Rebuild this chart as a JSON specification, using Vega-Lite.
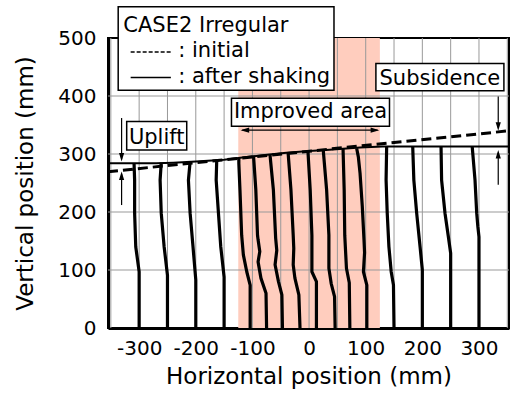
{
  "$schema": "https://vega.github.io/schema/vega-lite/v6.json",
  "width": 401,
  "height": 290,
  "autosize": {"type": "none"},
  "padding": {"left": 108, "top": 38, "right": 4, "bottom": 66},
  "config": {
    "font": "DejaVu Sans",
    "view": {"stroke": "black", "strokeWidth": 2},
    "axis": {"labelColor": "black", "titleColor": "black", "titleFontWeight": "normal", "domainColor": "black", "domainWidth": 3, "ticks": false, "grid": false}
  },
  "datasets": {
    "band": [{"x": -125, "x2": 125, "y": 0, "y2": 500}],
    "gx": [{"x": -350}, {"x": -300}, {"x": -250}, {"x": -200}, {"x": -150}, {"x": -100}, {"x": -50}, {"x": 0}, {"x": 50}, {"x": 100}, {"x": 150}, {"x": 200}, {"x": 250}, {"x": 300}, {"x": 350}],
    "gy": [{"y": 100}, {"y": 200}, {"y": 300}, {"y": 400}],
    "cols": [
      {"id": 1, "x": -300, "y": 0}, {"id": 1, "x": -300, "y": 97}, {"id": 1, "x": -306, "y": 140}, {"id": 1, "x": -308, "y": 198}, {"id": 1, "x": -308, "y": 255}, {"id": 1, "x": -309, "y": 284},
      {"id": 2, "x": -250, "y": 0}, {"id": 2, "x": -250, "y": 91}, {"id": 2, "x": -256, "y": 141}, {"id": 2, "x": -261, "y": 198}, {"id": 2, "x": -263, "y": 255}, {"id": 2, "x": -261, "y": 285},
      {"id": 3, "x": -200, "y": 0}, {"id": 3, "x": -200, "y": 83}, {"id": 3, "x": -205, "y": 141}, {"id": 3, "x": -210, "y": 198}, {"id": 3, "x": -213, "y": 255}, {"id": 3, "x": -210, "y": 287},
      {"id": 4, "x": -150, "y": 0}, {"id": 4, "x": -150, "y": 88}, {"id": 4, "x": -156, "y": 141}, {"id": 4, "x": -160, "y": 198}, {"id": 4, "x": -164, "y": 255}, {"id": 4, "x": -163, "y": 290},
      {"id": 5, "x": -104, "y": 0}, {"id": 5, "x": -104, "y": 74}, {"id": 5, "x": -110, "y": 97}, {"id": 5, "x": -116, "y": 126}, {"id": 5, "x": -119, "y": 160}, {"id": 5, "x": -122, "y": 238}, {"id": 5, "x": -124, "y": 284}, {"id": 5, "x": -124, "y": 293},
      {"id": 6, "x": -75, "y": 0}, {"id": 6, "x": -76, "y": 60}, {"id": 6, "x": -85, "y": 86}, {"id": 6, "x": -90, "y": 114}, {"id": 6, "x": -87, "y": 132}, {"id": 6, "x": -90, "y": 152}, {"id": 6, "x": -91, "y": 160}, {"id": 6, "x": -94, "y": 238}, {"id": 6, "x": -98, "y": 296},
      {"id": 7, "x": -47, "y": 0}, {"id": 7, "x": -48, "y": 57}, {"id": 7, "x": -54, "y": 80}, {"id": 7, "x": -60, "y": 109}, {"id": 7, "x": -57, "y": 134}, {"id": 7, "x": -59, "y": 155}, {"id": 7, "x": -63, "y": 238}, {"id": 7, "x": -69, "y": 299},
      {"id": 8, "x": -16, "y": 0}, {"id": 8, "x": -18, "y": 57}, {"id": 8, "x": -25, "y": 86}, {"id": 8, "x": -28, "y": 109}, {"id": 8, "x": -27, "y": 137}, {"id": 8, "x": -28, "y": 160}, {"id": 8, "x": -32, "y": 238}, {"id": 8, "x": -37, "y": 302},
      {"id": 9, "x": 13, "y": 0}, {"id": 9, "x": 13, "y": 80}, {"id": 9, "x": 5, "y": 97}, {"id": 9, "x": 5, "y": 160}, {"id": 9, "x": 2, "y": 238}, {"id": 9, "x": -2, "y": 305},
      {"id": 10, "x": 46, "y": 0}, {"id": 10, "x": 45, "y": 54}, {"id": 10, "x": 39, "y": 77}, {"id": 10, "x": 35, "y": 103}, {"id": 10, "x": 35, "y": 160}, {"id": 10, "x": 31, "y": 238}, {"id": 10, "x": 25, "y": 307},
      {"id": 11, "x": 72, "y": 0}, {"id": 11, "x": 71, "y": 78}, {"id": 11, "x": 66, "y": 103}, {"id": 11, "x": 63, "y": 160}, {"id": 11, "x": 62, "y": 238}, {"id": 11, "x": 60, "y": 309},
      {"id": 12, "x": 102, "y": 0}, {"id": 12, "x": 102, "y": 74}, {"id": 12, "x": 96, "y": 97}, {"id": 12, "x": 98, "y": 130}, {"id": 12, "x": 97, "y": 152}, {"id": 12, "x": 94, "y": 209}, {"id": 12, "x": 90, "y": 267}, {"id": 12, "x": 87, "y": 295}, {"id": 12, "x": 84, "y": 310},
      {"id": 13, "x": 150, "y": 0}, {"id": 13, "x": 149, "y": 74}, {"id": 13, "x": 145, "y": 97}, {"id": 13, "x": 141, "y": 140}, {"id": 13, "x": 138, "y": 198}, {"id": 13, "x": 136, "y": 255}, {"id": 13, "x": 137, "y": 313},
      {"id": 14, "x": 200, "y": 0}, {"id": 14, "x": 200, "y": 100}, {"id": 14, "x": 196, "y": 140}, {"id": 14, "x": 190, "y": 198}, {"id": 14, "x": 185, "y": 255}, {"id": 14, "x": 183, "y": 313},
      {"id": 15, "x": 250, "y": 0}, {"id": 15, "x": 250, "y": 129}, {"id": 15, "x": 246, "y": 157}, {"id": 15, "x": 240, "y": 198}, {"id": 15, "x": 234, "y": 255}, {"id": 15, "x": 233, "y": 313},
      {"id": 16, "x": 300, "y": 0}, {"id": 16, "x": 300, "y": 157}, {"id": 16, "x": 298, "y": 175}, {"id": 16, "x": 296, "y": 198}, {"id": 16, "x": 293, "y": 255}, {"id": 16, "x": 288, "y": 313}
    ],
    "surf": [
      {"s": "initial", "x": -355, "y": 269.5}, {"s": "initial", "x": 353, "y": 340},
      {"s": "after", "x": -355, "y": 284}, {"s": "after", "x": -270, "y": 284}, {"s": "after", "x": -240, "y": 285}, {"s": "after", "x": -200, "y": 287}, {"s": "after", "x": -150, "y": 290}, {"s": "after", "x": -125, "y": 293}, {"s": "after", "x": -100, "y": 296}, {"s": "after", "x": -70, "y": 299}, {"s": "after", "x": -40, "y": 302}, {"s": "after", "x": 0, "y": 305}, {"s": "after", "x": 30, "y": 307}, {"s": "after", "x": 60, "y": 309}, {"s": "after", "x": 90, "y": 311}, {"s": "after", "x": 130, "y": 313}, {"s": "after", "x": 353, "y": 313}
    ],
    "boxes": [
      {"x": -337, "x2": 44, "y": 410, "y2": 554},
      {"x": 118, "x2": 344, "y": 409, "y2": 456},
      {"x": -137, "x2": 142, "y": 348, "y2": 396},
      {"x": -322, "x2": -216, "y": 307, "y2": 356}
    ],
    "labelsL": [
      {"t": "CASE2 Irregular", "x": -328, "y": 511},
      {"t": ": initial", "x": -231, "y": 468},
      {"t": ": after shaking", "x": -231, "y": 423}
    ],
    "labelsC": [
      {"t": "Subsidence", "x": 231, "y": 419},
      {"t": "Improved area", "x": 2.5, "y": 361.5},
      {"t": "Uplift", "x": -269, "y": 318}
    ],
    "shafts": [
      {"x": -331, "x2": -331, "y": 362, "y2": 292},
      {"x": -331, "x2": -331, "y": 212, "y2": 265},
      {"x": 334, "x2": 334, "y": 399, "y2": 346},
      {"x": 334, "x2": 334, "y": 247, "y2": 302},
      {"x": -118, "x2": 121, "y": 341, "y2": 341}
    ],
    "heads": [
      {"d": "down", "x": -331, "y": 287},
      {"d": "up", "x": -331, "y": 270},
      {"d": "down", "x": 334, "y": 340},
      {"d": "up", "x": 334, "y": 307},
      {"d": "left", "x": -121, "y": 341},
      {"d": "right", "x": 124, "y": 341}
    ],
    "keys": [
      {"k": "initial", "x": -315, "x2": -244, "y": 476},
      {"k": "after", "x": -315, "x2": -244, "y": 432}
    ]
  },
  "layer": [
    {
      "data": {"name": "band"},
      "mark": {"type": "rect", "color": "#FFCDBE"},
      "encoding": {
        "x": {"field": "x", "type": "quantitative", "scale": {"domain": [-355, 353], "nice": false, "zero": false},
              "axis": {"values": [-300, -200, -100, 0, 100, 200, 300], "labelExpr": "datum.value < 0 ? '-' + (-datum.value) : '' + datum.value", "title": "Horizontal position (mm)", "labelFontSize": 20, "titleFontSize": 23, "labelPadding": 10, "titlePadding": 7}},
        "x2": {"field": "x2"},
        "y": {"field": "y", "type": "quantitative", "scale": {"domain": [0, 500], "nice": false},
              "axis": {"values": [0, 100, 200, 300, 400, 500], "title": "Vertical position (mm)", "labelFontSize": 20, "titleFontSize": 23, "labelPadding": 12, "titlePadding": 20}},
        "y2": {"field": "y2"}
      }
    },
    {
      "data": {"name": "gx"},
      "mark": {"type": "rule", "color": "#999999", "strokeWidth": 1},
      "encoding": {"x": {"field": "x", "type": "quantitative"}}
    },
    {
      "data": {"name": "gy"},
      "mark": {"type": "rule", "color": "#999999", "strokeWidth": 1},
      "encoding": {"y": {"field": "y", "type": "quantitative"}}
    },
    {
      "data": {"name": "cols"},
      "mark": {"type": "line", "color": "black", "strokeWidth": 3.2, "strokeJoin": "round"},
      "encoding": {
        "x": {"field": "x", "type": "quantitative"},
        "y": {"field": "y", "type": "quantitative"},
        "detail": {"field": "id"},
        "order": {"field": "y", "type": "quantitative"}
      }
    },
    {
      "data": {"name": "surf"},
      "transform": [{"filter": "datum.s === 'initial'"}],
      "mark": {"type": "line", "color": "black", "strokeWidth": 3, "strokeDash": [10, 5]},
      "encoding": {
        "x": {"field": "x", "type": "quantitative"},
        "y": {"field": "y", "type": "quantitative"},
        "order": {"field": "x", "type": "quantitative"}
      }
    },
    {
      "data": {"name": "surf"},
      "transform": [{"filter": "datum.s === 'after'"}],
      "mark": {"type": "line", "color": "black", "strokeWidth": 2},
      "encoding": {
        "x": {"field": "x", "type": "quantitative"},
        "y": {"field": "y", "type": "quantitative"},
        "order": {"field": "x", "type": "quantitative"}
      }
    },
    {
      "data": {"name": "boxes"},
      "mark": {"type": "rect", "fill": "white", "stroke": "black", "strokeWidth": 1.5},
      "encoding": {
        "x": {"field": "x", "type": "quantitative"},
        "x2": {"field": "x2"},
        "y": {"field": "y", "type": "quantitative"},
        "y2": {"field": "y2"}
      }
    },
    {
      "data": {"name": "labelsL"},
      "mark": {"type": "text", "align": "left", "baseline": "alphabetic", "fontSize": 21, "color": "black"},
      "encoding": {
        "x": {"field": "x", "type": "quantitative"},
        "y": {"field": "y", "type": "quantitative"},
        "text": {"field": "t"}
      }
    },
    {
      "data": {"name": "labelsC"},
      "mark": {"type": "text", "align": "center", "baseline": "alphabetic", "fontSize": 21, "color": "black"},
      "encoding": {
        "x": {"field": "x", "type": "quantitative"},
        "y": {"field": "y", "type": "quantitative"},
        "text": {"field": "t"}
      }
    },
    {
      "data": {"name": "shafts"},
      "mark": {"type": "rule", "color": "black", "strokeWidth": 1.2},
      "encoding": {
        "x": {"field": "x", "type": "quantitative"},
        "x2": {"field": "x2"},
        "y": {"field": "y", "type": "quantitative"},
        "y2": {"field": "y2"}
      }
    },
    {
      "data": {"name": "heads"},
      "mark": {"type": "point", "filled": true, "color": "black", "size": 300, "opacity": 1},
      "encoding": {
        "x": {"field": "x", "type": "quantitative"},
        "y": {"field": "y", "type": "quantitative"},
        "shape": {"field": "d", "type": "nominal", "legend": null,
                  "scale": {"domain": ["down", "up", "left", "right"],
                            "range": ["M0,0L-0.3,-1L0.3,-1Z", "M0,0L-0.3,1L0.3,1Z", "M0,0L1,-0.3L1,0.3Z", "M0,0L-1,-0.3L-1,0.3Z"]}}
      }
    },
    {
      "data": {"name": "keys"},
      "transform": [{"filter": "datum.k === 'initial'"}],
      "mark": {"type": "rule", "color": "black", "strokeWidth": 1.5, "strokeDash": [4, 2]},
      "encoding": {
        "x": {"field": "x", "type": "quantitative"},
        "x2": {"field": "x2"},
        "y": {"field": "y", "type": "quantitative"}
      }
    },
    {
      "data": {"name": "keys"},
      "transform": [{"filter": "datum.k === 'after'"}],
      "mark": {"type": "rule", "color": "black", "strokeWidth": 1.5},
      "encoding": {
        "x": {"field": "x", "type": "quantitative"},
        "x2": {"field": "x2"},
        "y": {"field": "y", "type": "quantitative"}
      }
    }
  ]
}
